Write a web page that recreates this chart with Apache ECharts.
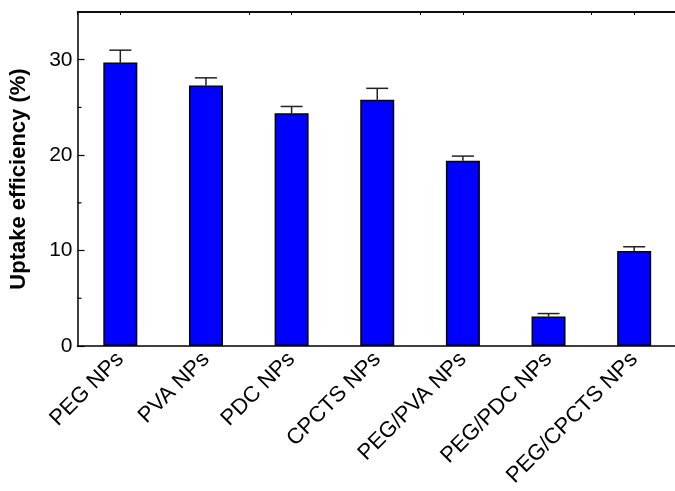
<!DOCTYPE html>
<html>
<head>
<meta charset="utf-8">
<script src="https://cdn.jsdelivr.net/npm/echarts@6/dist/echarts.min.js"></script>
<style>
  html, body { margin: 0; padding: 0; background: #fff; overflow: hidden; }
  #chart { width: 675px; height: 491px; }
</style>
</head>
<body>
<div id="chart"></div>
<script>
// Uptake efficiency of the nanoparticle formulations (mean with upper SD bar)
const categories = ['PEG NPs', 'PVA NPs', 'PDC NPs', 'CPCTS NPs', 'PEG/PVA NPs', 'PEG/PDC NPs', 'PEG/CPCTS NPs'];
const uptake = [29.7, 27.3, 24.4, 25.8, 19.4, 3.1, 9.95];
const uptakeErr = [1.3, 0.8, 0.7, 1.2, 0.5, 0.3, 0.45];
const yTicks = [0, 10, 20, 30];
const yMinorTicks = [5, 15, 25];

const FONT = "'Liberation Sans', Arial, sans-serif";
const chart = echarts.init(document.getElementById('chart'), null, { renderer: 'canvas' });

const errData = categories.map((c, i) => [i, uptake[i], uptakeErr[i]]);

// plain frame axis along the top edge
function topFrameAxis(alignCenter) {
  return {
    type: 'category',
    data: categories,
    position: 'top',
    axisLine: { show: true, lineStyle: { color: '#000', width: 1.5 } },
    axisTick: { show: true, inside: true, length: 3, alignWithLabel: alignCenter, lineStyle: { color: '#000', width: 1 } },
    axisLabel: { show: false },
    splitLine: { show: false }
  };
}

chart.setOption({
  animation: false,
  backgroundColor: '#fff',
  grid: { left: 77.5, right: -2, top: 12, bottom: 145, containLabel: false, outerBoundsMode: 'none' },
  xAxis: [
    {
      type: 'category',
      data: categories,
      position: 'bottom',
      axisLine: { lineStyle: { color: '#000', width: 1.5 } },
      axisTick: { inside: true, length: 5, lineStyle: { color: '#000', width: 1.2 } },
      axisLabel: { rotate: 45, margin: 10, fontSize: 22, color: '#000', fontFamily: FONT, interval: 0 },
      splitLine: { show: false }
    },
    topFrameAxis(false),
    topFrameAxis(true)
  ],
  yAxis: {
    type: 'value',
    min: 0, max: 35,
    name: 'Uptake efficiency (%)',
    nameLocation: 'middle',
    nameGap: 48,
    nameTextStyle: { fontSize: 22, fontWeight: 'bold', color: '#000', fontFamily: FONT },
    axisLine: { show: true, lineStyle: { color: '#000', width: 1.5 } },
    axisTick: { show: true, inside: true, length: 7, customValues: yTicks, lineStyle: { color: '#000', width: 1.2 } },
    axisLabel: { customValues: yTicks, fontSize: 21, color: '#000', fontFamily: FONT, margin: 5 },
    splitLine: { show: false }
  },
  series: [
    {
      type: 'bar',
      data: uptake,
      barWidth: 34,
      itemStyle: { color: '#0000ff', borderColor: '#000', borderWidth: 1.5 },
      z: 3
    },
    {
      // upper error bars with caps
      type: 'custom',
      data: errData,
      z: 2,
      renderItem: function (params, api) {
        const x = api.value(0);
        const v = api.value(1);
        const e = api.value(2);
        const base = api.coord([x, v]);
        const top = api.coord([x, v + e]);
        const half = 11;
        const style = { stroke: '#222', lineWidth: 1.5, fill: null };
        return {
          type: 'group',
          children: [
            { type: 'line', shape: { x1: base[0], y1: base[1], x2: top[0], y2: top[1] }, style: style },
            { type: 'line', shape: { x1: top[0] - half, y1: top[1], x2: top[0] + half, y2: top[1] }, style: style }
          ]
        };
      }
    },
    {
      // short minor ticks on the y axis, halfway between the labelled ones
      type: 'custom',
      data: yMinorTicks.map(v => [0, v]),
      z: 4,
      silent: true,
      renderItem: function (params, api) {
        const p = api.coord([0, api.value(1)]);
        const x0 = params.coordSys.x;
        return {
          type: 'line',
          shape: { x1: x0, y1: p[1], x2: x0 + 4, y2: p[1] },
          style: { stroke: '#000', lineWidth: 1.2 }
        };
      }
    }
  ]
});
</script>
</body>
</html>
